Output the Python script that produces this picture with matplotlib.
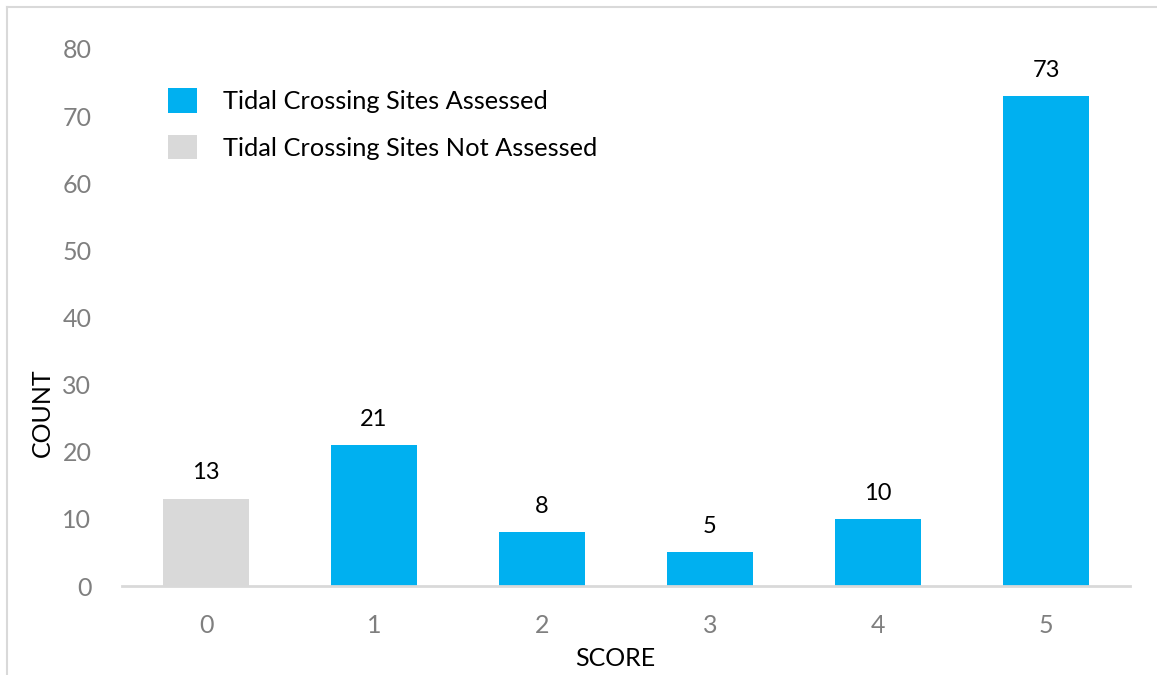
import matplotlib.pyplot as plt
from matplotlib.lines import Line2D
from matplotlib.patches import Patch

# data
scores = [0, 1, 2, 3, 4, 5]
counts = [13, 21, 8, 5, 10, 73]
assessed = [False, True, True, True, True, True]

BLUE = "#00B0F0"
GREY = "#D9D9D9"
TICK = "#7F7F7F"

plt.rcParams["font.family"] = ["Lato", "DejaVu Sans"]

fig = plt.figure(figsize=(11.57, 6.75), dpi=100)
ax = fig.add_axes([122 / 1157, 1 - 586 / 675, (1130 - 122) / 1157, (586 - 49) / 675])

colors = [BLUE if a else GREY for a in assessed]
bars = ax.bar(scores, counts, width=0.51, color=colors)
ax.bar_label(bars, labels=[str(c) for c in counts], padding=11, fontsize=17, color="black")

ax.set_xlim(-0.5, 5.5)
ax.set_ylim(0, 80)
ax.set_yticks(range(0, 81, 10))
ax.set_xticks(scores)
ax.tick_params(axis="both", length=0, labelsize=18, labelcolor=TICK)
ax.tick_params(axis="y", pad=22)
ax.tick_params(axis="x", pad=20)

for s in ["top", "right", "left"]:
    ax.spines[s].set_visible(False)
ax.spines["bottom"].set_color(GREY)
ax.spines["bottom"].set_linewidth(2)

fig.text(42 / 1157, 1 - 413 / 675, "COUNT", rotation=90, ha="center", va="center",
         fontsize=18, color="black")
fig.text(615 / 1157, 1 - 658 / 675, "SCORE", ha="center", va="center",
         fontsize=18, color="black")

handles = [Patch(facecolor=BLUE, edgecolor="none"), Patch(facecolor=GREY, edgecolor="none")]
ax.legend(handles, ["Tidal Crossing Sites Assessed", "Tidal Crossing Sites Not Assessed"],
          loc="upper left", bbox_to_anchor=(168 / 1157, 1 - 88 / 675),
          bbox_transform=fig.transFigure, frameon=False, fontsize=18.3,
          handlelength=1.16, handleheight=1.12, handletextpad=1.0,
          labelspacing=0.85, borderpad=0, borderaxespad=0)

# outer chart border (cropped on right and bottom)
fig.add_artist(Line2D([7 / 1157, 7 / 1157], [0, 1 - 7 / 675], color=GREY, lw=1.5,
                      transform=fig.transFigure))
fig.add_artist(Line2D([7 / 1157, 1], [1 - 7 / 675, 1 - 7 / 675], color=GREY, lw=1.5,
                      transform=fig.transFigure))

fig.savefig("out.png", dpi=100)
